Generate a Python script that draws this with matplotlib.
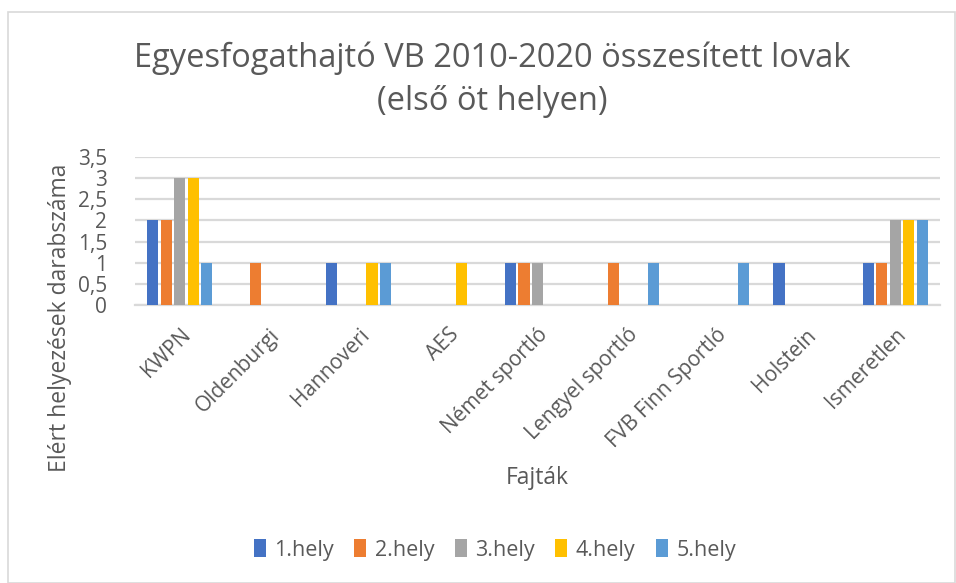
import matplotlib
matplotlib.use("Agg")
import matplotlib.pyplot as plt
import numpy as np
from matplotlib.patches import Rectangle

plt.rcParams['font.family'] = ['Open Sans', 'DejaVu Sans']

categories = ["KWPN", "Oldenburgi", "Hannoveri", "AES", "Német sportló",
              "Lengyel sportló", "FVB Finn Sportló", "Holstein", "Ismeretlen"]
series_names = ["1.hely", "2.hely", "3.hely", "4.hely", "5.hely"]
hely1 = [2, 0, 1, 0, 1, 0, 0, 1, 1]
hely2 = [2, 1, 0, 0, 1, 1, 0, 0, 1]
hely3 = [3, 0, 0, 0, 1, 0, 0, 0, 2]
hely4 = [3, 0, 1, 1, 0, 0, 0, 0, 2]
hely5 = [1, 0, 1, 0, 0, 1, 1, 0, 2]
series = [hely1, hely2, hely3, hely4, hely5]
colors = ["#4472C4", "#ED7D31", "#A5A5A5", "#FFC000", "#5B9BD5"]
yticks = [0, 0.5, 1, 1.5, 2, 2.5, 3, 3.5]
ytick_labels = ["0", "0,5", "1", "1,5", "2", "2,5", "3", "3,5"]

fig = plt.figure(figsize=(9.56, 5.83), dpi=100)
fig.patches.append(Rectangle((8/956, 0), 1 - 8/956 - 0.001, 1 - 12/583,
                             transform=fig.transFigure, fill=False,
                             edgecolor="#d9d9d9", linewidth=1.2))
ax = fig.add_axes([135/956, 1 - 305/583, 805/956, 148/583])

x = np.arange(len(categories))
step = 0.15
width = 0.125
for i, (vals, name, c) in enumerate(zip(series, series_names, colors)):
    ax.bar(x + (i - 2) * step, vals, width, color=c, label=name, zorder=3)

ax.set_xlim(-0.5, len(categories) - 0.5)
ax.set_ylim(0, 3.5)
ax.set_yticks(yticks)
ax.set_yticklabels(ytick_labels, fontsize=15, color="#595959")
ax.yaxis.grid(True, color="#d9d9d9", linewidth=1.6, zorder=0)
ax.set_axisbelow(True)
for s in ["top", "right", "left"]:
    ax.spines[s].set_visible(False)
ax.spines["bottom"].set_color("#d9d9d9")
ax.spines["bottom"].set_linewidth(1.6)
ax.tick_params(axis="both", length=0)
ax.tick_params(axis="y", pad=20)
ax.set_xticks(x)
ax.set_xticklabels(categories, rotation=45, ha="right", rotation_mode="anchor",
                   fontsize=15, color="#595959")
ax.tick_params(axis="x", pad=14)

fig.text(0.515, 1 - 58/583, "Egyesfogathajtó VB 2010-2020 összesített lovak",
         ha="center", va="center", fontsize=23.5, color="#595959")
fig.text(0.515, 1 - 101/583, "(első öt helyen)",
         ha="center", va="center", fontsize=23.5, color="#595959")
fig.text(60/956, 1 - 318/583, "Elért helyezések darabszáma", rotation=90,
         ha="center", va="center", fontsize=16.5, color="#595959")
fig.text(537/956, 1 - 478/583, "Fajták", ha="center", va="center",
         fontsize=16.5, color="#595959")

handles, labels = ax.get_legend_handles_labels()
fig.legend(handles, labels, loc="center", bbox_to_anchor=(495/956, 1 - 550/583),
           ncol=5, frameon=False, fontsize=15.5, handlelength=0.55, handleheight=0.9,
           handletextpad=0.4, columnspacing=0.95, labelcolor="#595959")

fig.savefig("out.png", dpi=100)
